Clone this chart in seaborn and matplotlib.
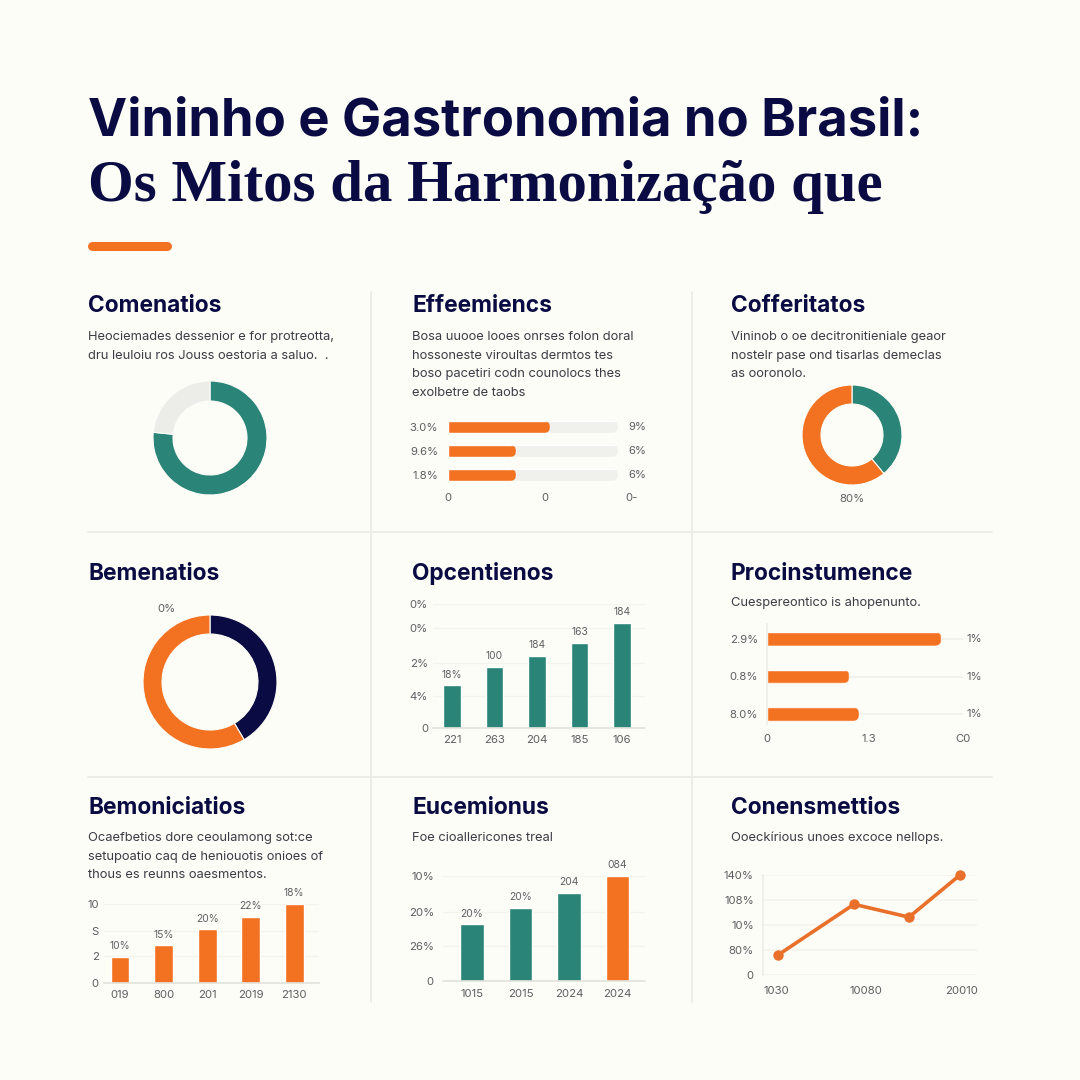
import matplotlib
matplotlib.use('Agg')
import matplotlib.pyplot as plt
from matplotlib.lines import Line2D
from matplotlib.patches import FancyBboxPatch
from matplotlib.transforms import IdentityTransform
import seaborn as sns
import pandas as pd

BG = '#FDFDF7'
NAVY = '#090B42'
TEAL = '#2A8478'
ORANGE = '#F37222'
TRACK = '#F0F0EC'
RULE = '#ECECE6'
GRID = '#F4F4ED'
BODY = '#3C3C46'
TICK = '#5E5E62'

# panel headings and copy
head_1 = 'Vininho e Gastronomia no Brasil:'
head_2 = 'Os Mitos da Harmonização que'
panel_titles = ['Comenatios', 'Effeemiencs', 'Cofferitatos',
                'Bemenatios', 'Opcentienos', 'Procinstumence',
                'Bemoniciatios', 'Eucemionus', 'Conensmettios']
panel_body = [
    ['Heociemades dessenior e for protreotta,', 'dru leuloiu ros Jouss oestoria a saluo.  .'],
    ['Bosa uuooe looes onrses folon doral', 'hossoneste viroultas dermtos tes',
     'boso pacetiri codn counolocs thes', 'exolbetre de taobs'],
    ['Vininob o oe decitronitieniale geaor', 'nostelr pase ond tisarlas demeclas', 'as ooronolo.'],
    [],
    [],
    ['Cuespereontico is ahopenunto.'],
    ['Ocaefbetios dore ceoulamong sot:ce', 'setupoatio caq de heniouotis onioes of',
     'thous es reunns oaesmentos.'],
    ['Foe cioallericones treal'],
    ['Ooeckírious unoes excoce nellops.'],
]

# donuts
donut_1 = [76.6, 23.4]
donut_2 = [39, 61]
donut_3 = [41.5, 58.5]

# horizontal bars
eff_values = [60, 40, 40]
eff_track = [100, 100, 100]
eff_left = ['3.0%', '9.6%', '1.8%']
eff_right = ['9%', '6%', '6%']
eff_ticks = [0, 57, 108]
eff_ticklabels = ['0', '0', '0-']

proc_values = [89, 42, 47]
proc_left = ['2.9%', '0.8%', '8.0%']
proc_right = ['1%', '1%', '1%']
proc_ticks = [0, 52, 100]
proc_ticklabels = ['0', '1.3', 'C0']

# vertical bars
opc_labels = ['221', '263', '204', '185', '106']
opc_values = [32, 46, 54, 64, 79]
opc_bar_labels = ['18%', '100', '184', '163', '184']
opc_ticks = [0, 24, 49, 75, 93]
opc_ticklabels = ['0', '4%', '2%', '0%', '0%']

bem_labels = ['019', '800', '201', '2019', '2130']
bem_values = [3.3, 4.8, 6.8, 8.4, 10]
bem_bar_labels = ['10%', '15%', '20%', '22%', '18%']
bem_ticks = [0, 3.4, 6.6, 10]
bem_ticklabels = ['0', '2', 'S', '10']

euc_labels = ['1015', '2015', '2024', '2024']
euc_values = [54, 70, 84, 100]
euc_bar_labels = ['20%', '20%', '204', '084']
euc_ticks = [0, 33, 66, 100]
euc_ticklabels = ['0', '26%', '20%', '10%']

# line
con_x = [15, 91, 146, 197]
con_y = [28, 99, 81, 140]
con_xticks = [13, 103, 199]
con_xticklabels = ['1030', '10080', '20010']
con_yticks = [0, 35, 70, 105, 140]
con_yticklabels = ['0', '80%', '10%', '108%', '140%']

sns.set_theme(style='white')
plt.rcParams['font.family'] = ['Inter', 'DejaVu Sans']
plt.rcParams['axes.facecolor'] = 'none'

fig = plt.figure(figsize=(10.8, 10.8), dpi=100, facecolor=BG)


def fx(x):
    return x / 1080


def fy(y):
    return 1 - y / 1080


def panel_ax(left, top, right, bottom):
    ax = fig.add_axes([fx(left), fy(bottom), (right - left) / 1080, (bottom - top) / 1080])
    ax.set_facecolor('none')
    return ax


def put_text(x, y, s, **kw):
    fig.text(fx(x), fy(y), s, va='center', **kw)


def rule(x0, y0, x1, y1):
    fig.add_artist(Line2D([fx(x0), fx(x1)], [fy(y0), fy(y1)], color=RULE, lw=1.3))


def donut(cx, cy, r, inner, values, colors):
    ax = panel_ax(cx - r, cy - r, cx + r, cy + r)
    ax.pie(values, colors=colors, startangle=90, counterclock=False, radius=1,
           wedgeprops={'width': 1 - inner / r, 'edgecolor': BG, 'linewidth': 0.8})
    ax.set_xlim(-1, 1)
    ax.set_ylim(-1, 1)


def style_ticks(ax, xpad, ypad):
    sns.despine(ax=ax, left=True, bottom=True)
    ax.set_xlabel('')
    ax.set_ylabel('')
    ax.tick_params(axis='x', length=0, pad=xpad, labelsize=8.2, labelcolor=TICK)
    ax.tick_params(axis='y', length=0, pad=ypad, labelsize=8.2, labelcolor=TICK)


def round_right(ax, patch, r):
    # square on the left, rounded on the right, in screen pixels
    x0, y0 = ax.transData.transform((patch.get_x(), patch.get_y()))
    x1, y1 = ax.transData.transform((patch.get_x() + patch.get_width(),
                                     patch.get_y() + patch.get_height()))
    y0, y1 = min(y0, y1), max(y0, y1)
    clip = FancyBboxPatch((x0 - 20, y0), x1 - x0 + 20, y1 - y0,
                          boxstyle=f'round,pad=0,rounding_size={r}',
                          transform=IdentityTransform())
    patch.set_clip_path(clip)


def vbars(box, xlim, width, labels, values, bar_labels, ticks, ticklabels, colors, xpad, ypad):
    ax = panel_ax(*box)
    df = pd.DataFrame({'pos': [str(i) for i in range(len(values))], 'value': values})
    sns.barplot(data=df, x='pos', y='value', hue='pos', palette=colors, width=width,
                saturation=1, legend=False, dodge=False, ax=ax)
    ax.set_xlim(*xlim)
    ax.set_ylim(0, ticks[-1] if ticks[-1] >= max(values) else max(values))
    ax.set_xticks(range(len(labels)))
    ax.set_xticklabels(labels)
    ax.set_yticks(ticks)
    ax.set_yticklabels(ticklabels)
    ax.yaxis.grid(True, color=GRID, lw=1)
    ax.set_axisbelow(True)
    style_ticks(ax, xpad, ypad)
    ax.spines['bottom'].set_visible(True)
    ax.spines['bottom'].set_color('#E2E2DC')
    ax.spines['bottom'].set_linewidth(1.2)
    for cont, lab in zip(ax.containers, bar_labels):
        ax.bar_label(cont, labels=[lab], padding=4, fontsize=7.4, color=TICK)
    return ax


# title block
put_text(88, 122, head_1, fontsize=37.8, fontweight='bold', color=NAVY)
put_text(88, 187, head_2, fontsize=42.4, fontweight='bold', color=NAVY,
         family=['Liberation Serif', 'DejaVu Serif'])
fig.add_artist(Line2D([fx(92), fx(167)], [fy(246), fy(246)], color=ORANGE, lw=6.5,
                      solid_capstyle='round'))

# separators
rule(371, 292, 371, 1002)
rule(692, 292, 692, 1002)
rule(88, 532, 992, 532)
rule(88, 777, 992, 777)

# panel headings
title_x = [88, 412, 731] * 3
title_y = [306.5] * 3 + [573.5] * 3 + [808.5] * 3
body_y = [337, 337, 337, 603, 603, 603, 838, 838, 838]
for i, name in enumerate(panel_titles):
    put_text(title_x[i], title_y[i], name, fontsize=16.4, fontweight='bold', color=NAVY)
    for j, line in enumerate(panel_body[i]):
        put_text(title_x[i], body_y[i] + j * 18.6, line, fontsize=9.3, color=BODY)

# donuts
donut(210, 438, 57, 37, donut_1, [TEAL, '#ECECE9'])
donut(852, 435, 50, 31, donut_2, [TEAL, ORANGE])
put_text(852, 499, '80%', fontsize=8.2, color=TICK, ha='center')
donut(210, 682, 67, 48, donut_3, [NAVY, ORANGE])
put_text(167, 609, '0%', fontsize=8.2, color=TICK, ha='center')

# Effeemiencs
ax = panel_ax(448, 415, 645, 487)
eff_df = pd.DataFrame({'pos': ['0', '1', '2'], 'value': eff_values, 'track': eff_track})
sns.barplot(data=eff_df, y='pos', x='track', color=TRACK, saturation=1, width=0.5, ax=ax)
sns.barplot(data=eff_df, y='pos', x='value', color=ORANGE, saturation=1, width=0.5, ax=ax)
ax.set_xlim(0, 197 / 1.7)
ax.set_ylim(2.5, -0.5)
ax.set_xticks(eff_ticks)
ax.set_xticklabels(eff_ticklabels)
ax.set_yticks(range(3))
ax.set_yticklabels(eff_left)
style_ticks(ax, 4, 7)
for p in ax.patches:
    round_right(ax, p, 6)
for i, lab in enumerate(eff_right):
    ax.annotate(lab, (1, i), xycoords=('axes fraction', 'data'), xytext=(-17, 0),
                textcoords='offset pixels', va='center', fontsize=8.2, color=TICK)

# Procinstumence
ax = panel_ax(767, 620, 963, 733)
proc_df = pd.DataFrame({'pos': ['0', '1', '2'], 'value': proc_values})
sns.barplot(data=proc_df, y='pos', x='value', color=ORANGE, saturation=1, width=0.37, ax=ax)
ax.set_xlim(0, 100)
ax.set_ylim(2.5, -0.5)
ax.set_xticks(proc_ticks)
ax.set_xticklabels(proc_ticklabels)
ax.set_yticks(range(3))
ax.set_yticklabels(proc_left)
ax.yaxis.grid(True, color=TRACK, lw=1.2)
ax.set_axisbelow(True)
style_ticks(ax, 1, 6.5)
ax.spines['left'].set_visible(True)
ax.spines['left'].set_color('#EFEFE9')
ax.spines['left'].set_bounds(2.25, -0.4)
for p in ax.patches:
    round_right(ax, p, 7)
for i, lab in enumerate(proc_right):
    ax.annotate(lab, (1, i), xycoords=('axes fraction', 'data'), xytext=(4, 0),
                textcoords='offset pixels', va='center', fontsize=8.2, color=TICK)

# vertical bar panels
vbars((433, 604, 645, 728), (-0.447, 4.54), 0.42, opc_labels, opc_values, opc_bar_labels,
      opc_ticks, opc_ticklabels, [TEAL] * 5, 5, 3.6)
vbars((104, 904, 319, 983), (-0.37, 4.57), 0.43, bem_labels, bem_values, bem_bar_labels,
      bem_ticks, bem_ticklabels, [ORANGE] * 5, 5, 3.6)
vbars((443, 876, 645, 981), (-0.6, 3.57), 0.49, euc_labels, euc_values, euc_bar_labels,
      euc_ticks, euc_ticklabels, [TEAL, TEAL, TEAL, ORANGE], 6, 6.5)

# Conensmettios
ax = panel_ax(763, 875, 977, 975)
con_df = pd.DataFrame({'x': con_x, 'y': con_y})
sns.lineplot(data=con_df, x='x', y='y', color='#E8702A', lw=2.6, marker='o', markersize=7.5,
             markeredgewidth=0, clip_on=False, ax=ax)
ax.set_xlim(0, 214)
ax.set_ylim(0, 140)
ax.set_xticks(con_xticks)
ax.set_xticklabels(con_xticklabels)
ax.set_yticks(con_yticks)
ax.set_yticklabels(con_yticklabels)
ax.yaxis.grid(True, color=GRID, lw=1.2)
ax.set_axisbelow(True)
style_ticks(ax, 8, 6.5)
ax.spines['left'].set_visible(True)
ax.spines['left'].set_color('#EFEFE9')

fig.savefig('out.png', dpi=100, facecolor=BG)
plt.close(fig)
